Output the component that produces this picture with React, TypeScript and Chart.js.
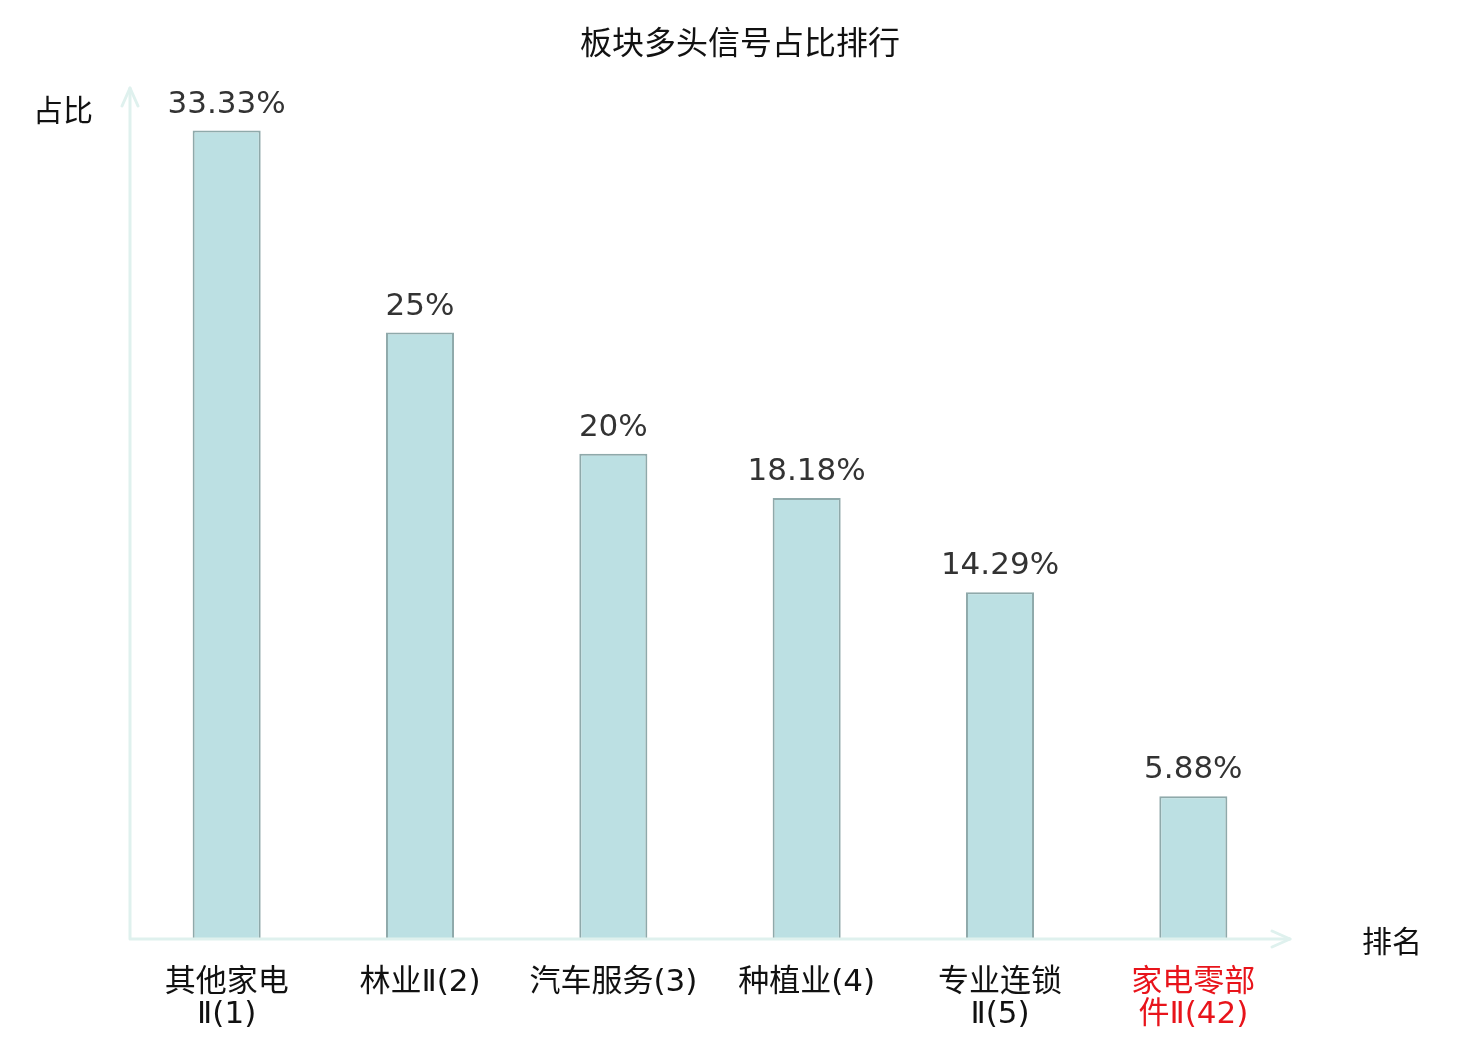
import React, { useEffect, useRef } from "react";
import { Chart, registerables } from "chart.js";

Chart.register(...registerables);

const titleText = "板块多头信号占比排行";
const yAxisName = "占比";
const xAxisName = "排名";
const categories: string[][] = [
  ["其他家电", "Ⅱ(1)"],
  ["林业Ⅱ(2)"],
  ["汽车服务(3)"],
  ["种植业(4)"],
  ["专业连锁", "Ⅱ(5)"],
  ["家电零部", "件Ⅱ(42)"],
];
const values: number[] = [33.33, 25, 20, 18.18, 14.29, 5.88];
const valueLabels: string[] = ["33.33%", "25%", "20%", "18.18%", "14.29%", "5.88%"];
const highlightIndex = 5;

const FONT = "'Noto Sans CJK SC', 'DejaVu Sans', sans-serif";
const TICK_FONT = "'DejaVu Sans', 'Noto Sans CJK SC', sans-serif";
const AXIS_COLOR = "#dff1ee";

const decorPlugin = {
  id: "decor",
  afterDatasetsDraw(chart: any) {
    const { ctx, chartArea } = chart;
    const { left, right, top, bottom } = chartArea;
    ctx.save();
    ctx.strokeStyle = AXIS_COLOR;
    ctx.lineWidth = 3;
    ctx.lineCap = "round";
    ctx.lineJoin = "round";
    ctx.beginPath();
    ctx.moveTo(left, bottom);
    ctx.lineTo(left, top - 2);
    ctx.moveTo(left, bottom);
    ctx.lineTo(right, bottom);
    ctx.stroke();
    ctx.beginPath();
    ctx.moveTo(left - 8, top + 16);
    ctx.lineTo(left, top - 2);
    ctx.lineTo(left + 8, top + 16);
    ctx.moveTo(right - 18, bottom - 8);
    ctx.lineTo(right, bottom);
    ctx.lineTo(right - 18, bottom + 8);
    ctx.stroke();

    // value labels
    const meta = chart.getDatasetMeta(0);
    ctx.fillStyle = "#333333";
    ctx.font = `31px 'DejaVu Sans', sans-serif`;
    ctx.textAlign = "center";
    ctx.textBaseline = "middle";
    meta.data.forEach((bar: any, i: number) => {
      ctx.fillText(valueLabels[i], bar.x, bar.y - 26);
    });

    // category labels via the x scale
    const xs = chart.scales.x;
    ctx.font = `31px ${TICK_FONT}`;
    categories.forEach((lines, i) => {
      const cx = xs.getPixelForValue(i);
      ctx.fillStyle = i === highlightIndex ? "#e8141b" : "#111111";
      lines.forEach((line, j) => {
        ctx.fillText(line, cx, bottom + 44 + j * 32);
      });
    });

    // axis names
    ctx.fillStyle = "#111111";
    ctx.font = `30px ${FONT}`;
    ctx.fillText(yAxisName, left - 67, top + 20);
    ctx.fillText(xAxisName, right + 102, bottom + 2);

    // title
    ctx.font = `32px ${FONT}`;
    ctx.fillText(titleText, (left + right) / 2 + 30, 42);
    ctx.restore();
  },
};

export default function App() {
  const ref = useRef<HTMLCanvasElement | null>(null);
  useEffect(() => {
    document.body.style.margin = "0";
    document.body.style.overflow = "hidden";
    if (!ref.current) return;
    const chart = new Chart(ref.current, {
      type: "bar",
      data: {
        labels: categories,
        datasets: [
          {
            data: values,
            backgroundColor: "#bce0e3",
            borderColor: "#8fa9aa",
            borderWidth: 2,
            barPercentage: 0.352,
            categoryPercentage: 1,
          },
        ],
      },
      options: {
        animation: false,
        responsive: false,
        maintainAspectRatio: false,
        devicePixelRatio: 1,
        layout: { padding: { left: 130, right: 190, top: 90, bottom: 101 } },
        plugins: {
          legend: { display: false },
          title: { display: false },
          tooltip: { enabled: false },
        },
        scales: {
          y: { display: false, min: 0, max: 35 },
          x: { display: false },
        },
      },
      plugins: [decorPlugin],
    });
    return () => chart.destroy();
  }, []);
  return (
    <div style={{ position: "absolute", left: 0, top: 0, width: 1480, height: 1040, overflow: "hidden", background: "#fff" }}>
      <canvas ref={ref} width={1480} height={1040} style={{ width: 1480, height: 1040, display: "block" }} />
    </div>
  );
}
